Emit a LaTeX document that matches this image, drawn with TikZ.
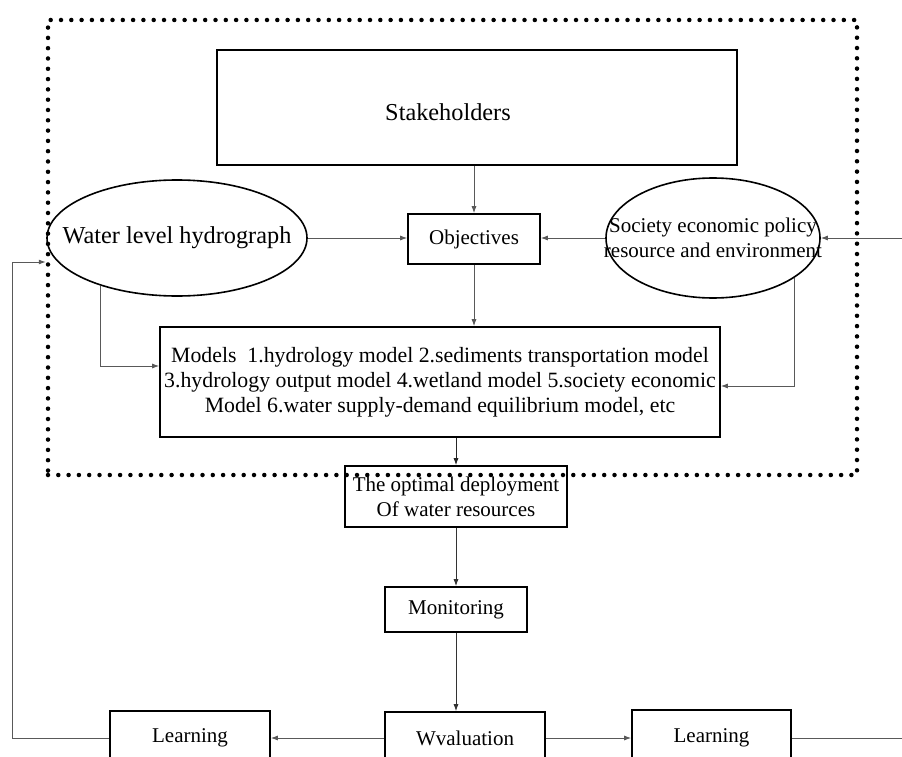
\documentclass[tikz,border=0pt]{standalone}
\usepackage{fontspec}
\setmainfont{Liberation Serif}
\usetikzlibrary{arrows.meta,shapes.geometric}
\begin{document}
\begin{tikzpicture}[x=1pt,y=-1pt,
  txt/.style={font=\fontsize{21}{25}\selectfont},
  bigtxt/.style={font=\fontsize{24.3}{28}\selectfont},
  box/.style={draw,line width=1.6pt,rectangle,align=center,inner sep=0pt,txt},
  oval/.style={draw,line width=1.6pt,ellipse,inner sep=0pt},
  conn/.style={draw=black!65,line width=0.9pt,-{Latex[length=7pt,width=5pt]}},
  plain/.style={draw=black!65,line width=0.9pt},
  zonestyle/.style={draw,line width=4.5pt,line cap=round,dash pattern=on 0pt off 10.3pt,inner sep=0pt}]
\useasboundingbox (0,0) rectangle (902,757);

% dotted planning zone
\node[zonestyle,minimum width=809pt,minimum height=455pt] (zone) at (452.5,247.5) {};

% nodes inside the zone
\node[box,minimum width=520pt,minimum height=115pt,
      label={[bigtxt,xshift=-29pt,yshift=-5pt]center:Stakeholders}] (stake) at (477,107.5) {};
\node[box,minimum width=132pt,minimum height=50pt] (obj) at (474,239) {Objectives};
\node[oval,minimum width=260pt,minimum height=116pt,
      label={[bigtxt]center:Water level hydrograph}] (water) at (177,238) {};
\node[oval,minimum width=214pt,minimum height=120pt,
      label={[txt,align=center]center:Society economic policy\\resource and environment}] (soc) at (713,238) {};
\node[box,minimum width=560pt,minimum height=110pt,font=\fontsize{21.8}{25}\selectfont] (models) at (440,382)
  {Models\ \ 1.hydrology model 2.sediments transportation model\\
   3.hydrology output model 4.wetland model 5.society economic\\
   Model 6.water supply-demand equilibrium model, etc};

% chain below the zone
\node[box,minimum width=222pt,minimum height=61pt] (opt) at (456,496.5)
  {The optimal deployment\\Of water resources};
\node[box,minimum width=142pt,minimum height=45pt] (mon) at (456,609.5) {Monitoring};
\node[box,minimum width=160pt,minimum height=52pt] (wval) at (465,738) {Wvaluation};
\node[box,minimum width=160pt,minimum height=54pt] (learnL) at (190,738) {Learning};
\node[box,minimum width=159pt,minimum height=56pt] (learnR) at (711.5,738) {Learning};

% feedback routing points
\coordinate (railL) at (12,0);
\coordinate (railR) at (902,0);
\coordinate (zoneIn) at ([yshift=-14.5pt]zone.west);

% connectors
\draw[conn] (obj.north |- stake.south) -- (obj.north);
\draw[conn] (water.east) -- (water.east -| obj.west);
\draw[conn] (soc.west) -- (soc.west -| obj.east);
\draw[conn] (obj.south) -- (obj.south |- models.north);
\draw[conn] (water.212) |- ([yshift=16pt]models.west);
\draw[conn] (soc.334) |- ([yshift=-4pt]models.east);
\draw[conn,draw=black!85] (opt.north |- models.south) -- (opt.north);
\draw[conn,draw=black!80] (opt.south) -- (mon.north);
\draw[conn,draw=black!80] (mon.south) -- (mon.south |- wval.north);
\draw[conn] (wval.west) -- (learnL.east);
\draw[conn] (wval.east) -- (learnR.west);
\draw[conn] (learnL.west) -- (learnL.west -| railL) |- (zoneIn);
\draw[plain] (learnR.east) -- (learnR.east -| railR);
\draw[conn] (soc.east -| railR) -- (soc.east);
\end{tikzpicture}
\end{document}
